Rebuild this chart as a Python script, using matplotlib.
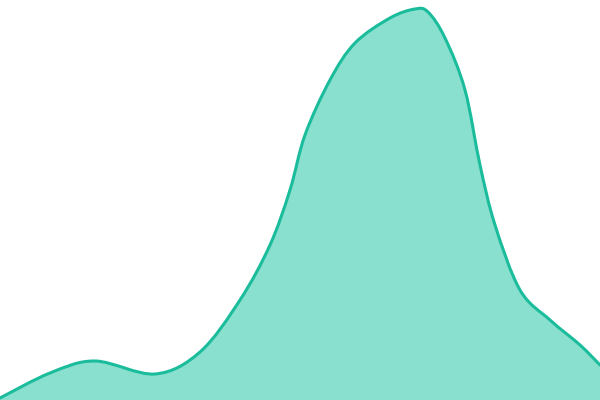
import numpy as np
import matplotlib.pyplot as plt
from matplotlib.path import Path
from matplotlib.patches import PathPatch

# values (x position, height above the bottom)
xs = [0, 50, 95, 155, 200, 240, 270, 290, 305, 330, 355, 390, 415, 428,
      445, 465, 480, 495, 520, 550, 580, 600]
ys = [2, 27, 39, 26, 48, 100, 155, 210, 265, 320, 357, 382, 391, 388,
      362, 310, 235, 175, 110, 80, 55, 35]

line_color = '#1abc9c'
fill_color = '#8ae0cf'


def smooth_path(x, y, closed_bottom=None):
    # catmull-rom through the points, written as cubic bezier segments
    x = np.asarray(x, float)
    y = np.asarray(y, float)
    pts = np.column_stack([x, y])
    verts = [pts[0]]
    codes = [Path.MOVETO]
    n = len(pts)
    for i in range(n - 1):
        p0 = pts[i - 1] if i > 0 else pts[i]
        p1 = pts[i]
        p2 = pts[i + 1]
        p3 = pts[i + 2] if i + 2 < n else pts[i + 1]
        c1 = p1 + (p2 - p0) / 6.0
        c2 = p2 - (p3 - p1) / 6.0
        verts += [c1, c2, p2]
        codes += [Path.CURVE4] * 3
    if closed_bottom is not None:
        verts += [(x[-1], closed_bottom), (x[0], closed_bottom), pts[0]]
        codes += [Path.LINETO, Path.LINETO, Path.CLOSEPOLY]
    return Path(verts, codes)


fig = plt.figure(figsize=(6, 4), dpi=100)
ax = fig.add_axes([0, 0, 1, 1])
ax.add_patch(PathPatch(smooth_path(xs, ys, closed_bottom=-5), facecolor=fill_color,
                       edgecolor='none'))
ax.add_patch(PathPatch(smooth_path(xs, ys), facecolor='none', edgecolor=line_color,
                       linewidth=2.2, capstyle='round', joinstyle='round'))
ax.set_xlim(0, 600)
ax.set_ylim(0, 400)
ax.axis('off')
fig.savefig('out.png', dpi=100)
